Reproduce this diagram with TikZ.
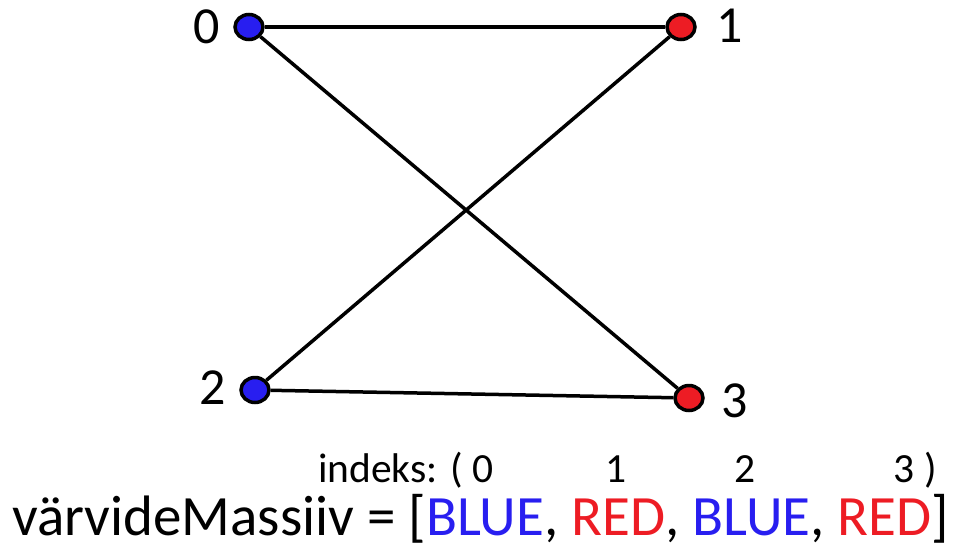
\documentclass[tikz,border=0pt]{standalone}
\usepackage{fontspec}
\setmainfont{Carlito}
\usepackage{xcolor}
\usetikzlibrary{shapes.geometric}
\definecolor{vblue}{RGB}{40,30,240}
\definecolor{vred}{RGB}{237,28,36}

\begin{document}
\begin{tikzpicture}[x=1pt, y=-1pt,
    vertex/.style={ellipse, draw, line width=3.5pt, inner sep=0pt, minimum width=28pt, minimum height=25pt},
    num/.style={font=\fontsize{52}{60}\selectfont, inner sep=0pt},
    idxnum/.style={inner sep=0pt, font=\fontsize{41.5}{46}\selectfont},
    edge/.style={line width=3.5pt}]
    \useasboundingbox (0,0) rectangle (961,550);

    % graph
    \node[vertex, fill=vblue] (v0) at (249,27) {};
    \node[vertex, fill=vred] (v1) at (681,27) {};
    \node[vertex, fill=vblue] (v2) at (255,390) {};
    \node[vertex, fill=vred] (v3) at (689,398) {};

    \node[num] (l0) at (207,27) {0};
    \node[num] (l1) at (730,26) {1};
    \node[num] (l2) at (213,388) {2};
    \node[num] (l3) at (735,401) {3};

    \draw[edge] (v0) -- (v1);
    \draw[edge] (v0) -- (v3);
    \draw[edge] (v1) -- (v2);
    \draw[edge] (v2) -- (v3);

    % array
    \node[idxnum, anchor=base west] (idx) at (318,482) {indeks: ( 0};
    \node[idxnum, anchor=base] (i1) at (616,482) {1};
    \node[idxnum, anchor=base] (i2) at (745,482) {2};
    \node[idxnum, anchor=base east] (i3) at (937,482) {3 )};
    \node[anchor=base west, inner sep=0pt, font=\fontsize{57}{66}\selectfont] (arr) at (12,535)
        {värvideMassiiv = [{\color{vblue}BLUE}, {\color{vred}RED}, {\color{vblue}BLUE}, {\color{vred}RED}]};
\end{tikzpicture}
\end{document}
